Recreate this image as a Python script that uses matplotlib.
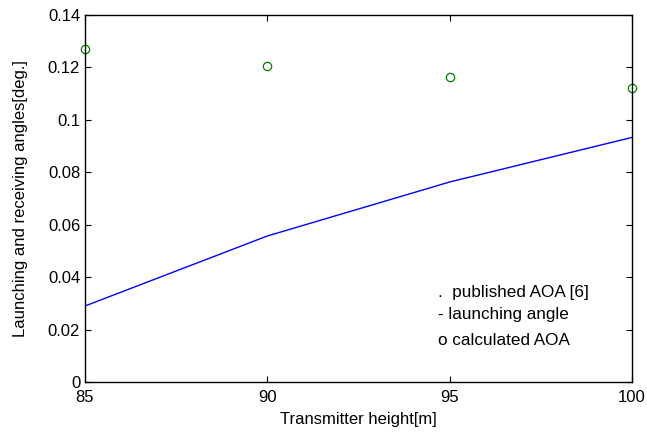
import matplotlib
matplotlib.use('Agg')
import matplotlib.pyplot as plt

plt.rcParams['font.family'] = ['Liberation Sans', 'DejaVu Sans']

# transmitter heights [m]
heights = [85, 90, 95, 100]
launching = [0.029, 0.0557, 0.0763, 0.0933]
calculated = [0.1272, 0.1207, 0.1162, 0.1120]
published = [0.0, 0.0, 0.0, 0.0]

fig = plt.figure(figsize=(6.47, 4.33), dpi=100)
ax = fig.add_axes([85 / 647, 1 - 382 / 433, 547 / 647, 367 / 433])

ax.plot(heights, published, '.', color='red', markersize=1)
ax.plot(heights, launching, '-', color='blue', linewidth=1)
ax.plot(heights, calculated, 'o', color='green', markerfacecolor='none',
        markersize=6, markeredgewidth=0.9, clip_on=False)

ax.set_xlim(85, 100)
ax.set_ylim(0, 0.14)
ax.set_xticks([85, 90, 95, 100])
ax.set_yticks([0, 0.02, 0.04, 0.06, 0.08, 0.1, 0.12, 0.14])
ax.set_yticklabels(['0', '0.02', '0.04', '0.06', '0.08', '0.1', '0.12', '0.14'])
ax.tick_params(direction='in', length=4, labelsize=12, top=True, right=True)
ax.tick_params(axis='x', pad=6)
for s in ax.spines.values():
    s.set_linewidth(1)

ax.set_xlabel('Transmitter height[m]', fontsize=12, labelpad=5)
ax.set_ylabel('Launching and receiving angles[deg.]', fontsize=12, labelpad=14)

ax.text(0.645, 0.245, '.  published AOA [6]', transform=ax.transAxes, fontsize=12.3, va='center')
ax.text(0.645, 0.183, '- launching angle', transform=ax.transAxes, fontsize=12.3, va='center')
ax.text(0.645, 0.112, 'o calculated AOA', transform=ax.transAxes, fontsize=12.3, va='center')

fig.savefig('out.png', dpi=100)
